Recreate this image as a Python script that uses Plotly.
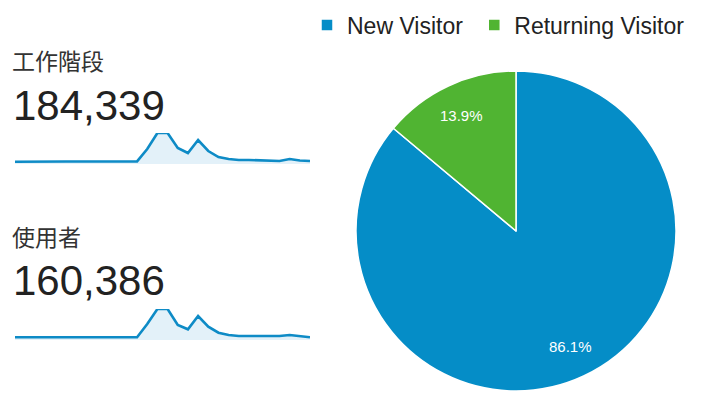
import math
import plotly.graph_objects as go

# daily sessions / users over the month
days = list(range(1, 31))
sessions = [1960, 2120, 2210, 2290, 2210, 2130, 2120, 2130, 2110, 2120,
            2130, 2120, 2200, 12750, 26350, 26300, 13600, 9350, 20400, 11050,
            5950, 4250, 3400, 3400, 2980, 2550, 2550, 4250, 2980, 2550]
users = [1970, 2050, 2100, 2150, 2100, 2050, 2000, 2000, 1990, 1990,
         1990, 1990, 1990, 11660, 22600, 22600, 10940, 7800, 17500, 9700,
         5320, 3650, 2920, 2920, 2920, 2920, 2920, 3650, 2920, 1970]
session_total = "184,339"
user_total = "160,386"

visitor_labels = ["New Visitor", "Returning Visitor"]
visitor_share = [86.1, 13.9]
visitor_colors = ["#058DC7", "#50B432"]

font_family = "Liberation Sans, Arial, Noto Sans CJK TC, sans-serif"
line_color = "#0E8BC6"
fill_color = "#E3F1F9"

W, H = 704, 401


# helpers: page pixel -> paper fraction (body margin is removed below)
def fx(px):
    return px / W


def fy(px):
    return (H - px) / H


fig = go.Figure()

# sparklines
fig.add_trace(go.Scatter(x=days, y=sessions, mode="lines", fill="tozeroy",
                         line=dict(color=line_color, width=2.6),
                         fillcolor=fill_color, showlegend=False,
                         xaxis="x", yaxis="y"))
fig.add_trace(go.Scatter(x=days, y=users, mode="lines", fill="tozeroy",
                         line=dict(color=line_color, width=2.6),
                         fillcolor=fill_color, showlegend=False,
                         xaxis="x2", yaxis="y2"))

# pie
cx, cy, R = 516, 231, 160
# a trailing no-break space widens the first legend entry a little
legend_names = [visitor_labels[0] + "\u00a0", visitor_labels[1]]
fig.add_trace(go.Pie(labels=legend_names, values=visitor_share,
                     marker=dict(colors=visitor_colors,
                                 line=dict(color="white", width=1.5)),
                     sort=False, direction="clockwise", rotation=0,
                     textinfo="none",
                     domain=dict(x=[fx(cx - R), fx(cx + R)], y=[fy(cy + R), fy(cy - R)])))

# percentage labels placed along each slice's bisector at 0.8 R
annotations = []
total = sum(visitor_share)
start = 0.0
for v in visitor_share:
    mid = math.radians((start + v / 2) / total * 360)
    start += v
    lx = cx + 0.8 * R * math.sin(mid)
    ly = cy - 0.8 * R * math.cos(mid)
    annotations.append(dict(text=f"{v:.1f}%", x=fx(lx), y=fy(ly), xref="paper", yref="paper",
                            xanchor="center", yanchor="middle", showarrow=False,
                            font=dict(size=15, color="white", family=font_family)))

labels = [("工作階段", 62, 23, "#333333", 10), (session_total, 106, 42, "#222222", 11),
          ("使用者", 238, 23, "#333333", 10), (user_total, 280, 42, "#222222", 11)]
for txt, ypx, size, col, xpx in labels:
    annotations.append(dict(text=txt, x=fx(xpx), y=fy(ypx), xref="paper", yref="paper",
                            xanchor="left", yanchor="middle", showarrow=False,
                            font=dict(size=size, color=col, family=font_family)))

axis_off = dict(visible=False, showgrid=False, zeroline=False, fixedrange=True)
fig.update_layout(
    width=W, height=H,
    margin=dict(l=0, r=0, t=0, b=0),
    paper_bgcolor="white", plot_bgcolor="white",
    font=dict(family=font_family),
    xaxis=dict(domain=[fx(15), fx(310)], range=[1, 30], **axis_off),
    yaxis=dict(domain=[fy(164), fy(133)], range=[0, max(sessions)], **axis_off),
    xaxis2=dict(domain=[fx(15), fx(310)], range=[1, 30], anchor="y2", **axis_off),
    yaxis2=dict(domain=[fy(340), fy(309)], range=[0, max(users)], anchor="x2", **axis_off),
    legend=dict(orientation="h", x=fx(307), xanchor="left", y=fy(25), yanchor="middle",
                font=dict(size=23, color="#222222", family=font_family),
                itemclick=False, tracegroupgap=0),
    annotations=annotations,
)

fig.write_html("out.html", config={"displayModeBar": False},
               post_script="document.body.style.margin = '0';")
